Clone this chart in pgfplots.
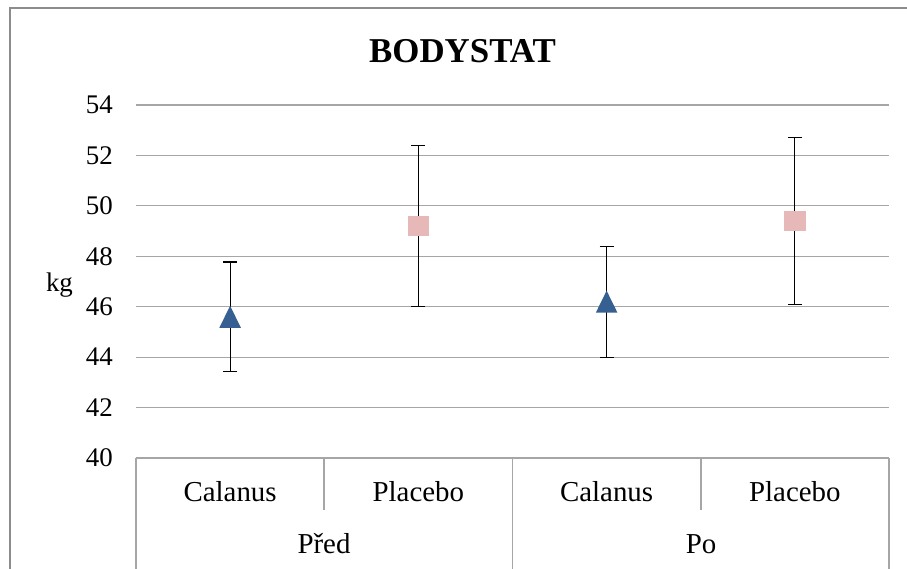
\documentclass[border=0pt]{standalone}
\usepackage{fontspec}
\setmainfont{Liberation Serif}
\usepackage{pgfplots}
\usepackage{pgfplotstable}
\pgfplotsset{compat=1.18}
\definecolor{tri}{HTML}{376092}
\definecolor{sq}{HTML}{E6B9B8}
\definecolor{gridc}{HTML}{A6A6A6}
\definecolor{framec}{HTML}{8C8C8C}
\pgfdeclareplotmark{xtri}{\pgfpathmoveto{\pgfpoint{-10.8bp}{-11bp}}\pgfpathlineto{\pgfpoint{10.8bp}{-11bp}}\pgfpathlineto{\pgfpoint{0bp}{11bp}}\pgfpathclose\pgfusepathqfill}
\pgfdeclareplotmark{xsq}{\pgfpathrectangle{\pgfpoint{-10.8bp}{-10.2bp}}{\pgfpoint{21.6bp}{20.4bp}}\pgfusepathqfill}
\pgfplotstableread{
x y e
0 45.6 2.17
1 49.2 3.2
2 46.2 2.2
3 49.4 3.3
}\alldata
\pgfplotstableread{
x y
0 45.6
2 46.2
}\calanus
\pgfplotstableread{
x y
1 49.2
3 49.4
}\placebo
\begin{document}
\begin{tikzpicture}
\useasboundingbox (-136bp,-111bp) rectangle (771bp,458bp);
\fill[white] (-136bp,-111bp) rectangle (771bp,458bp);
\draw[framec, line width=2bp] (-126bp,-115bp) -- (-126bp,450bp) -- (775bp,450bp);
\begin{axis}[
  at={(0,0)}, anchor=south west,
  width=753bp, height=353bp, scale only axis,
  clip=false,
  xmin=-0.5, xmax=3.5, ymin=40, ymax=54,
  ytick={40,42,...,54},
  xtick={0,1,2,3},
  xticklabels={Calanus,Placebo,Calanus,Placebo},
  ymajorgrids,
  grid style={gridc, line width=1.2bp},
  axis line style={draw=none},
  major tick length=0pt,
  /pgf/number format/assume math mode=true,
  yticklabel style={font=\fontsize{27}{27}\selectfont, inner sep=0pt, anchor=east, xshift=-23bp},
  xticklabel style={font=\fontsize{29}{29}\selectfont, inner sep=0pt, anchor=base, yshift=-43bp},
]
\addplot[draw=none, mark=none, forget plot,
  error bars/.cd, y dir=both, y explicit,
  error bar style={draw=black, line width=1.2bp},
  error mark options={rotate=90, mark size=7bp, draw=black, line width=1.2bp}]
  table[x=x, y=y, y error=e] {\alldata};
\addplot[only marks, mark=xtri, color=tri, mark options={fill=tri}] table[x=x,y=y] {\calanus};
\addplot[only marks, mark=xsq, color=sq, mark options={fill=sq}] table[x=x,y=y] {\placebo};
\end{axis}
\draw[gridc, line width=1.2bp] (0bp,0bp) -- (753bp,0bp);
\draw[gridc, line width=1.2bp] (0bp,0bp) -- (0bp,-115bp);
\draw[gridc, line width=1.2bp] (376.5bp,0bp) -- (376.5bp,-115bp);
\draw[gridc, line width=1.2bp] (753bp,0bp) -- (753bp,-115bp);
\draw[gridc, line width=1.2bp] (188bp,0bp) -- (188bp,-52bp);
\draw[gridc, line width=1.2bp] (565bp,0bp) -- (565bp,-52bp);
\node[anchor=base, inner sep=0pt, font=\fontsize{29}{29}\selectfont] at (188bp,-95bp) {Před};
\node[anchor=base, inner sep=0pt, font=\fontsize{29}{29}\selectfont] at (565bp,-95bp) {Po};
\node[anchor=base, inner sep=0pt, font=\fontsize{27}{27}\selectfont] at (-76.5bp,166bp) {kg};
\node[anchor=base, inner sep=0pt, font=\bfseries\fontsize{35}{35}\selectfont] at (326.5bp,395bp) {BODYSTAT};
\end{tikzpicture}
\end{document}
